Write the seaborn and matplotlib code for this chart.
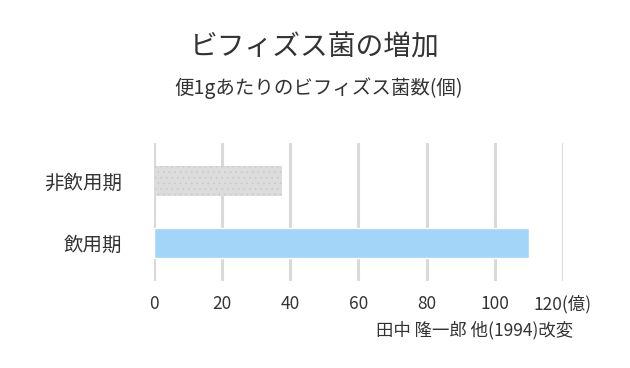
import matplotlib
matplotlib.use("Agg")
import matplotlib.pyplot as plt
import seaborn as sns
import pandas as pd

# データ
categories = ["非飲用期", "飲用期"]
values = [37.5, 110]
bar_colors = ["#dcdcdc", "#a3d5f8"]
x_ticks = [0, 20, 40, 60, 80, 100, 120]
x_tick_labels = ["0", "20", "40", "60", "80", "100", "120(億)"]

title = "ビフィズス菌の増加"
subtitle = "便1gあたりのビフィズス菌数(個)"
source = "田中 隆一郎 他(1994)改変"

sns.set_theme(style="white")
plt.rcParams["font.family"] = ["Noto Sans CJK JP", "DejaVu Sans"]
plt.rcParams["hatch.linewidth"] = 0.5

text_color = "#333333"
grid_color = "#d9d9d9"

df = pd.DataFrame({"period": categories, "count": values})

fig = plt.figure(figsize=(6.3, 3.68), dpi=100)
ax = fig.add_axes([0.2444, 0.2364, 0.6492, 0.375])

sns.barplot(data=df, x="count", y="period", hue="period", palette=bar_colors,
            saturation=1, legend=False, width=0.484, ax=ax, zorder=3)

# 非飲用期のバーに点模様
ax.patches[0].set_hatch("...")
ax.patches[0].set_edgecolor("#cacaca")
ax.patches[0].set_linewidth(0)

ax.set_xlim(0, 120)
ax.set_ylim(1.613, -0.613)
ax.set_xticks(x_ticks)
ax.set_xticklabels(x_tick_labels, fontsize=12.5, color=text_color)
ax.tick_params(axis="y", labelsize=14, labelcolor=text_color, length=0, pad=23)
ax.tick_params(axis="x", length=0, pad=10)
ax.set_xlabel("")
ax.set_ylabel("")

ax.xaxis.grid(True, color=grid_color, linewidth=2.2, zorder=0)
ax.set_axisbelow(True)
for s in ax.spines.values():
    s.set_visible(False)

fig.text(0.5, 1 - 48 / 368, title, ha="center", va="center", fontsize=20, color=text_color)
fig.text(0.506, 1 - 88 / 368, subtitle, ha="center", va="center", fontsize=14, color=text_color)
fig.text(573 / 630, 1 - 330 / 368, source, ha="right", va="center", fontsize=12.5, color=text_color)

fig.savefig("out.png", dpi=100)
